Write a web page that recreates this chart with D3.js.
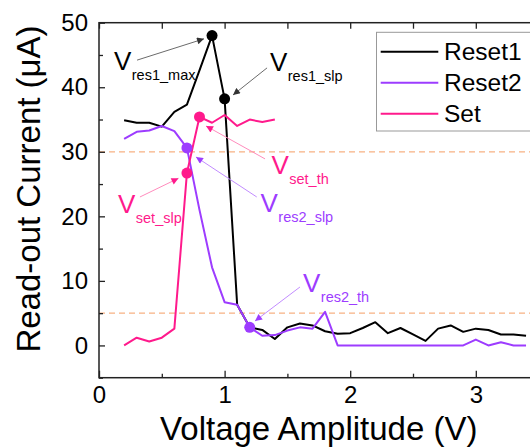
<!DOCTYPE html>
<html>
<head>
<meta charset="utf-8">
<script src="https://cdn.jsdelivr.net/npm/d3@7"></script>
<style>
  html, body { margin: 0; padding: 0; background: #fff; }
  svg { display: block; }
  text { font-family: "Liberation Sans", Arial, sans-serif; }
</style>
</head>
<body>
<svg id="chart" width="530" height="447"></svg>
<script>
// Sweep voltages (V)
const voltage = [0.2, 0.3, 0.4, 0.5, 0.6, 0.7, 0.8, 0.9, 1.0, 1.1, 1.2, 1.3, 1.4, 1.5, 1.6, 1.7,
                 1.8, 1.9, 2.0, 2.1, 2.2, 2.3, 2.4, 2.5, 2.6, 2.7, 2.8, 2.9, 3.0, 3.1, 3.2, 3.3, 3.4];
// Read-out current (µA) per series
const reset1 = [34.9, 34.5, 34.5, 33.9, 36.2, 37.3, 42.6, 48.0, 38.2, 6.3, 2.8, 2.4, 1.0, 2.8, 3.4, 3.1,
                2.2, 1.8, 1.9, 2.7, 3.6, 1.9, 2.7, 1.7, 0.7, 2.6, 3.1, 2.1, 2.6, 2.4, 1.7, 1.7, 1.5];
const reset2 = [32.0, 33.1, 33.3, 34.0, 33.2, 30.6, 21.0, 12.1, 6.7, 6.3, 2.8, 1.5, 1.6, 2.3, 2.8, 2.6,
                5.2, 0, 0, 0, 0, 0, 0, 0, 0, 0, 0, 0, 0.9, 0, 0.5, 0, 0];
const setCurve = [0, 1.2, 0.6, 1.2, 2.6, 26.7, 35.4, 34.5, 35.7, 34.0, 35.0, 34.6, 35.0];

const seriesNames = ["Reset1", "Reset2", "Set"];
const seriesColors = ["#000000", "#9d3cff", "#ff1a8c"];
const seriesValues = [reset1, reset2, setCurve];

// Reference current levels (µA)
const thresholds = [30, 5];

const xTicks = [0, 1, 2, 3];
const xMinorTicks = [0.5, 1.5, 2.5, 3.5];
const yTicks = [0, 10, 20, 30, 40, 50];
const yMinorTicks = [-5, 5, 15, 25, 35, 45];

// Highlighted characteristic points: series index and voltage
const keyPoints = [
  { s: 0, v: 0.9 }, { s: 0, v: 1.0 },
  { s: 1, v: 0.7 }, { s: 1, v: 1.2 },
  { s: 2, v: 0.7 }, { s: 2, v: 0.8 }
];

// Annotation labels: text anchor and arrow in data units (V, µA)
const notes = [
  { sub: "res1_max", s: 0, tv: 0.119, ti: 42.6, a: [0.303, 44.2, 0.836, 47.5] },
  { sub: "res1_slp", s: 0, tv: 1.361, ti: 42.5, a: [1.338, 43.0, 1.067, 38.8] },
  { sub: "set_th",   s: 2, tv: 1.373, ti: 26.5, a: [1.322, 28.9, 0.852, 34.0] },
  { sub: "res2_slp", s: 1, tv: 1.286, ti: 20.7, a: [1.256, 23.0, 0.772, 29.2] },
  { sub: "set_slp",  s: 2, tv: 0.151, ti: 20.5, a: [0.326, 23.0, 0.633, 25.9] },
  { sub: "res2_th",  s: 1, tv: 1.624, ti: 8.35, a: [1.600, 9.05, 1.242, 3.78] }
];
const arrowLineColors = ["#6b6b6b", "#c28cff", "#ff8cbd"];

const svg = d3.select("#chart");
const margin = { left: 99, top: 22.7, right: 538.6, bottom: 377.7 };

const x = d3.scaleLinear().domain([0, 3.5]).range([margin.left, margin.right]);
const y = d3.scaleLinear().domain([-5, 50]).range([margin.bottom, margin.top]);

const defs = svg.append("defs");
seriesColors.forEach((c, i) => {
  defs.append("marker")
    .attr("id", "head" + i)
    .attr("viewBox", "0 0 10 10")
    .attr("refX", 10).attr("refY", 5)
    .attr("markerWidth", 9).attr("markerHeight", 7)
    .attr("markerUnits", "userSpaceOnUse")
    .attr("orient", "auto")
    .append("path")
    .attr("d", "M0,0 L10,5 L0,10 Z")
    .attr("fill", i === 0 ? "#333" : c);
});

// Clip to plot area
defs.append("clipPath").attr("id", "plotClip")
  .append("rect")
  .attr("x", margin.left).attr("y", margin.top)
  .attr("width", margin.right - margin.left).attr("height", margin.bottom - margin.top);

// Threshold dashed lines
svg.append("g").selectAll("line").data(thresholds).join("line")
  .attr("x1", margin.left).attr("x2", margin.right)
  .attr("y1", d => y(d)).attr("y2", d => y(d))
  .attr("stroke", "#f7b183").attr("stroke-width", 1.3)
  .attr("stroke-dasharray", "6,4");

// Axes with inward ticks
const tickFont = 24;
const axisStyle = g => {
  g.select(".domain").remove();
  g.selectAll(".tick line").attr("stroke", "#222").attr("stroke-width", 1.3);
  g.selectAll("text").attr("font-size", tickFont).attr("fill", "#000")
    .style("font-family", "'Liberation Sans', Arial, sans-serif");
};

svg.append("g").attr("transform", `translate(0,${margin.bottom})`)
  .call(d3.axisBottom(x).tickValues(xTicks).tickFormat(d3.format("d")).tickSizeInner(-7).tickSizeOuter(0).tickPadding(8))
  .call(axisStyle);
svg.append("g").attr("transform", `translate(0,${margin.bottom})`)
  .call(d3.axisBottom(x).tickValues(xMinorTicks).tickFormat("").tickSizeInner(-4).tickSizeOuter(0))
  .call(axisStyle);
svg.append("g").attr("transform", `translate(0,${margin.top})`)
  .call(d3.axisTop(x).tickValues(xTicks.concat(xMinorTicks)).tickFormat("").tickSizeInner(-6).tickSizeOuter(0))
  .call(axisStyle);
svg.append("g").attr("transform", `translate(${margin.left},0)`)
  .call(d3.axisLeft(y).tickValues(yTicks).tickFormat(d3.format("d")).tickSizeInner(-6).tickSizeOuter(0).tickPadding(11))
  .call(axisStyle);
svg.append("g").attr("transform", `translate(${margin.left},0)`)
  .call(d3.axisLeft(y).tickValues(yMinorTicks).tickFormat("").tickSizeInner(-4).tickSizeOuter(0))
  .call(axisStyle);

// Plot frame
svg.append("rect")
  .attr("x", margin.left).attr("y", margin.top)
  .attr("width", margin.right - margin.left).attr("height", margin.bottom - margin.top)
  .attr("fill", "none").attr("stroke", "#222").attr("stroke-width", 1.5);

// Series lines
const line = d3.line().x(d => x(d[0])).y(d => y(d[1]));
const plot = svg.append("g").attr("clip-path", "url(#plotClip)");
seriesValues.forEach((vals, i) => {
  const pts = vals.map((v, k) => [voltage[k], v]);
  plot.append("path").datum(pts)
    .attr("d", line)
    .attr("fill", "none")
    .attr("stroke", seriesColors[i])
    .attr("stroke-width", 2)
    .attr("stroke-linejoin", "round");
});

// Key points
plot.selectAll("circle.key").data(keyPoints).join("circle")
  .attr("class", "key")
  .attr("cx", d => x(d.v))
  .attr("cy", d => y(seriesValues[d.s][voltage.findIndex(u => Math.abs(u - d.v) < 1e-9)]))
  .attr("r", 5.5)
  .attr("fill", d => seriesColors[d.s]);

// Annotation arrows and labels
const ann = svg.append("g");
notes.forEach(n => {
  ann.append("line")
    .attr("x1", x(n.a[0])).attr("y1", y(n.a[1]))
    .attr("x2", x(n.a[2])).attr("y2", y(n.a[3]))
    .attr("stroke", arrowLineColors[n.s]).attr("stroke-width", 1)
    .attr("marker-end", `url(#head${n.s})`);
  const t = ann.append("text")
    .attr("x", x(n.tv)).attr("y", y(n.ti))
    .attr("fill", seriesColors[n.s]);
  t.append("tspan").attr("font-size", 26).text("V");
  t.append("tspan").attr("font-size", 14.5).attr("dy", 10).attr("dx", 0.5).text(n.sub);
});

// Legend
const lg = svg.append("g");
lg.append("rect")
  .attr("x", 376.5).attr("y", 32.3).attr("width", 170).attr("height", 98.7)
  .attr("fill", "#fff").attr("stroke", "#999").attr("stroke-width", 1);
seriesNames.forEach((name, i) => {
  const ly = 51.7 + i * 31;
  lg.append("line")
    .attr("x1", 380.7).attr("x2", 438.3).attr("y1", ly).attr("y2", ly)
    .attr("stroke", seriesColors[i]).attr("stroke-width", 2);
  lg.append("text")
    .attr("x", 444).attr("y", ly + 8.6)
    .attr("font-size", 24.5).attr("fill", "#000")
    .text(name);
});

// Axis titles
svg.append("text")
  .attr("x", (margin.left + margin.right) / 2).attr("y", 440)
  .attr("text-anchor", "middle").attr("font-size", 33).attr("fill", "#000")
  .text("Voltage Amplitude (V)");
svg.append("text")
  .attr("transform", "translate(39.5,189) rotate(-90)")
  .attr("text-anchor", "middle").attr("font-size", 33).attr("fill", "#000")
  .text("Read-out Current (μA)");
</script>
</body>
</html>
